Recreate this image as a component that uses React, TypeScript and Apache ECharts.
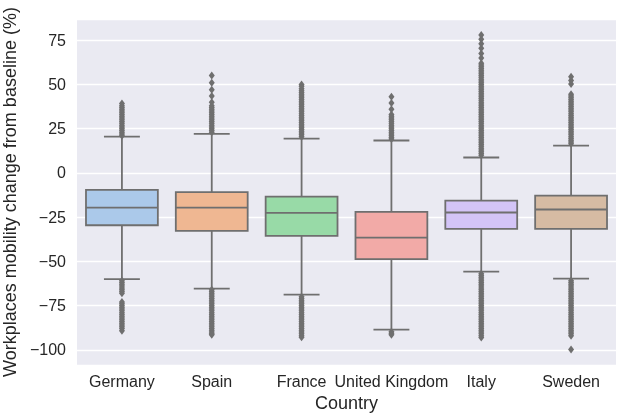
import React, { useEffect, useRef } from "react";
import * as echarts from "echarts";

const categories = ["Germany", "Spain", "France", "United Kingdom", "Italy", "Sweden"];
const fills = ["#abc9ea", "#efb792", "#98daa7", "#f2aaa7", "#d3c4f7", "#d6bba3"];

const lowerWhisker = [-60, -65.4, -68.8, -88.6, -55.8, -59.8];
const q1 = [-29.6, -32.8, -35.6, -48.8, -31.7, -31.7];
const median = [-19.6, -19.6, -22.6, -36.6, -22.4, -20.7];
const q3 = [-9.6, -10.9, -13.4, -22, -15.7, -12.8];
const upperWhisker = [20.5, 22.1, 19.4, 18.3, 8.7, 15.4];

const germanyOutliers = [
  21, 22, 23, 24, 25, 26, 27, 28, 29, 30, 31, 32, 33, 34, 35, 36, 37, 38, 39.3,
  -61, -62, -63, -64, -65, -66, -67, -68,
  -73, -74, -75, -76, -77, -78, -79, -80, -81, -82, -83, -84, -85, -86, -87, -88, -89.3,
];
const spainOutliers = [
  23, 24, 25, 26, 27, 28, 29, 30, 31, 32, 33, 34, 35, 36, 37, 38, 40, 43.5, 47, 51, 55,
  -66, -67, -68, -69, -70, -71, -72, -73, -74, -75, -76, -77, -78, -79, -80, -81, -82, -83, -84, -85,
  -86, -87, -88, -89, -90, -91, -91.5,
];
const franceOutliers = [
  20.5, 21.5, 22.5, 23.5, 24.5, 25.5, 26.5, 27.5, 28.5, 29.5, 30.5, 31.5, 32.5, 33.5, 34.5, 35.5, 36.5,
  37.5, 38.5, 39.5, 40.5, 41.5, 42.5, 43.5, 44.5, 45.5, 46.5, 47.5, 49, 50,
  -70, -71, -72, -73, -74, -75, -76, -77, -78, -79, -80, -81, -82, -83, -84, -85, -86, -87, -88, -89,
  -90, -91, -92, -92.9,
];
const ukOutliers = [
  19.2, 20, 21, 22, 23, 24, 25, 26, 27, 28, 29, 30, 31, 32, 33, 36, 39.5, 43,
  -89.8, -90.6, -91.5,
];
const italyOutliers = [
  10, 11, 12, 13, 14, 15, 16, 17, 18, 19, 20, 21, 22, 23, 24, 25, 26, 27, 28, 29, 30, 31, 32, 33, 34, 35,
  36, 37, 38, 39, 40, 41, 42, 43, 44, 45, 46, 47, 48, 49, 50, 51, 52, 53, 54, 55, 56, 57, 58, 59, 60, 61,
  62, 65, 67.5, 70.5, 73, 75.5, 78,
  -57, -58, -59, -60, -61, -62, -63, -64, -65, -66, -67, -68, -69, -70, -71, -72, -73, -74, -75, -76, -77,
  -78, -79, -80, -81, -82, -83, -84, -85, -86, -87, -88, -89, -90, -91, -92, -93,
];
const swedenOutliers = [
  16.5, 17.5, 18.5, 19.5, 20.5, 21.5, 22.5, 23.5, 24.5, 25.5, 26.5, 27.5, 28.5, 29.5, 30.5, 31.5, 32.5,
  33.5, 34.5, 35.5, 36.5, 37.5, 38.5, 39.5, 40.5, 41.5, 42.5, 43.5, 44.5,
  50.3, 52.3, 54.3,
  -61, -62, -63, -64, -65, -66, -67, -68, -69, -70, -71, -72, -73, -74, -75, -76, -77, -78, -79, -80,
  -81, -82, -83, -84, -85, -86, -87, -88, -89, -90, -91, -92, -99.9,
];
const outliers = [germanyOutliers, spainOutliers, franceOutliers, ukOutliers, italyOutliers, swedenOutliers];

const yMin = -108.6;
const yMax = 87;
const yStep = 25;

const FONT = '"Liberation Sans", Arial, sans-serif';
const TEXT = "#262626";
const GRAY = "#6f6f6f";

export default function App() {
  const ref = useRef<HTMLDivElement>(null);
  useEffect(() => {
    const chart = echarts.init(ref.current as HTMLDivElement, undefined, { renderer: "svg" });
    const boxData = categories.map((_, i) => [i, lowerWhisker[i], q1[i], median[i], q3[i], upperWhisker[i]]);
    const outlierData: number[][] = [];
    outliers.forEach((arr, i) => arr.forEach((v) => outlierData.push([i, v])));

    chart.setOption({
      animation: false,
      textStyle: { fontFamily: FONT },
      grid: {
        left: 77,
        right: 7,
        top: 19,
        bottom: 54,
        show: true,
        backgroundColor: "#eaeaf2",
        borderWidth: 0,
        containLabel: false,
        outerBoundsMode: "none",
      },
      xAxis: {
        type: "category",
        data: categories,
        boundaryGap: true,
        axisLine: { show: false },
        axisTick: { show: false },
        splitLine: { show: false },
        axisLabel: { color: TEXT, fontSize: 16, fontFamily: FONT, margin: 8, interval: 0 },
        name: "Country",
        nameLocation: "middle",
        nameGap: 25,
        nameTextStyle: { color: TEXT, fontSize: 18, fontFamily: FONT },
      },
      yAxis: {
        type: "value",
        min: yMin,
        max: yMax,
        minInterval: yStep,
        maxInterval: yStep,
        axisLine: { show: false },
        axisTick: { show: false },
        splitLine: { show: true, lineStyle: { color: "#ffffff", width: 1.3 } },
        axisLabel: {
          color: TEXT,
          fontSize: 16,
          fontFamily: FONT,
          margin: 11,
          showMinLabel: false,
          showMaxLabel: false,
          formatter: (v: number) => (v < 0 ? "\u2212" + Math.abs(v) : String(v)),
        },
        name: "Workplaces mobility change from baseline (%)",
        nameLocation: "middle",
        nameRotate: 90,
        nameGap: 52,
        nameTextStyle: { color: TEXT, fontSize: 18, fontFamily: FONT },
      },
      series: [
        {
          type: "custom",
          data: boxData,
          encode: { x: 0, y: [1, 2, 3, 4, 5] },
          z: 2,
          renderItem: (params: any, api: any) => {
            const i = api.value(0);
            const band = api.size([1, 0])[0];
            const boxW = band * 0.8;
            const capW = boxW * 0.5;
            const cx = api.coord([i, 0])[0];
            const yLw = api.coord([i, api.value(1)])[1];
            const yQ1 = api.coord([i, api.value(2)])[1];
            const yMed = api.coord([i, api.value(3)])[1];
            const yQ3 = api.coord([i, api.value(4)])[1];
            const yUw = api.coord([i, api.value(5)])[1];
            const ls = { stroke: GRAY, lineWidth: 1.8 };
            return {
              type: "group",
              children: [
                { type: "line", shape: { x1: cx, y1: yQ3, x2: cx, y2: yUw }, style: ls },
                { type: "line", shape: { x1: cx, y1: yQ1, x2: cx, y2: yLw }, style: ls },
                { type: "line", shape: { x1: cx - capW / 2, y1: yUw, x2: cx + capW / 2, y2: yUw }, style: ls },
                { type: "line", shape: { x1: cx - capW / 2, y1: yLw, x2: cx + capW / 2, y2: yLw }, style: ls },
                {
                  type: "rect",
                  shape: { x: cx - boxW / 2, y: yQ3, width: boxW, height: yQ1 - yQ3 },
                  style: { fill: fills[i], stroke: GRAY, lineWidth: 1.8 },
                },
                { type: "line", shape: { x1: cx - boxW / 2, y1: yMed, x2: cx + boxW / 2, y2: yMed }, style: ls },
              ],
            };
          },
        },
        {
          type: "scatter",
          data: outlierData,
          symbol: "diamond",
          symbolSize: [6, 8],
          z: 3,
          itemStyle: { color: GRAY, opacity: 1 },
        },
      ],
    });
    return () => chart.dispose();
  }, []);
  return <div ref={ref} style={{ position: "fixed", left: 0, top: 0, width: 623, height: 419 }} />;
}
